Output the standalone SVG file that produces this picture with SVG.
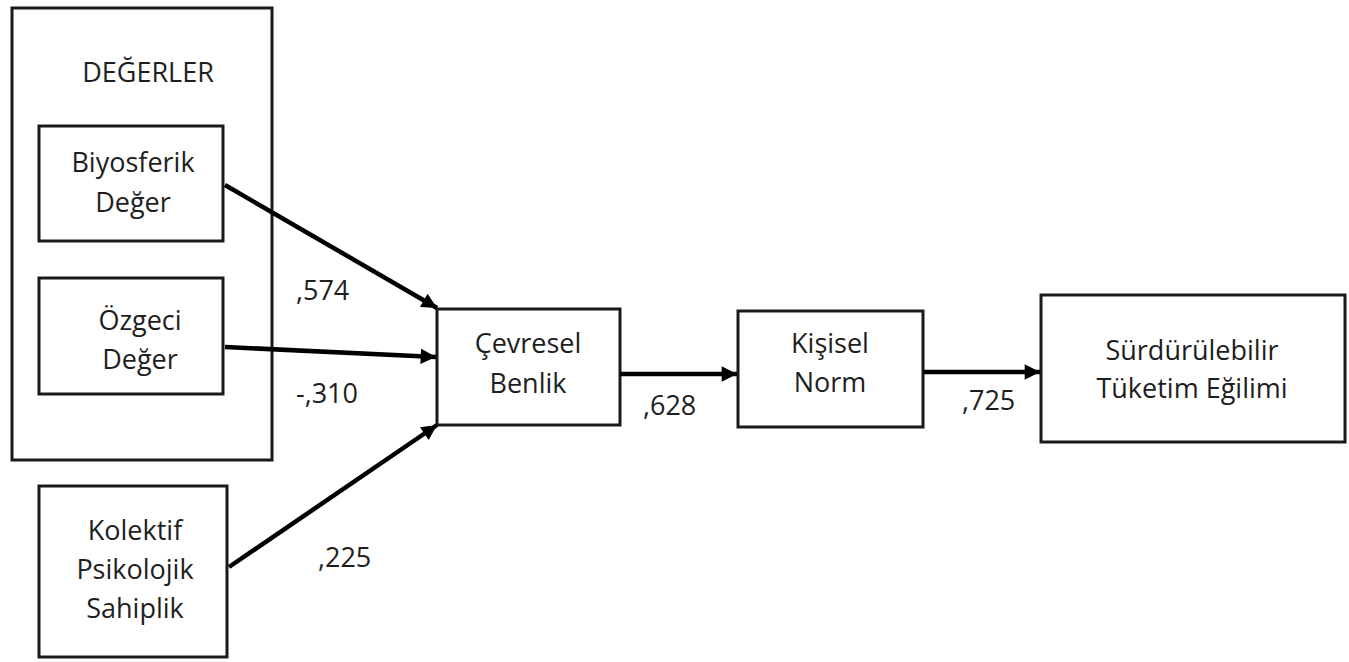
<svg xmlns="http://www.w3.org/2000/svg" width="1349" height="662" viewBox="0 0 1349 662">
<style>
.box{fill:#fff;stroke:#1a1a1a;stroke-width:3}
.t{font-family:"Open Sans","Liberation Sans",sans-serif;font-size:27px;fill:#1e1e1e;text-anchor:middle}
.lbl{font-family:"Open Sans","Liberation Sans",sans-serif;font-size:27px;fill:#1e1e1e}
.c{stroke:#000;stroke-width:4.5;fill:none;marker-end:url(#ah)}
</style>
<defs>
<marker id="ah" viewBox="0 0 10 10" refX="10" refY="5" markerWidth="4.2" markerHeight="3.4" orient="auto" markerUnits="strokeWidth">
<path d="M0,0 L10,5 L0,10 z" fill="#000"/>
</marker>
</defs>
<rect width="1349" height="662" fill="#fff"/>
<g id="degerler">
<rect class="box" x="12" y="8" width="260" height="452"/>
<text class="t" x="148" y="82">DEĞERLER</text>
</g>
<g id="biyosferik">
<rect class="box" x="39" y="126" width="184" height="115"/>
<text class="t" x="133" y="172">Biyosferik</text>
<text class="t" x="133" y="212">Değer</text>
</g>
<g id="ozgeci">
<rect class="box" x="39" y="278" width="184" height="116"/>
<text class="t" x="140" y="330">Özgeci</text>
<text class="t" x="140" y="369">Değer</text>
</g>
<g id="kolektif">
<rect class="box" x="39" y="486" width="188" height="171"/>
<text class="t" x="135" y="540">Kolektif</text>
<text class="t" x="135" y="579">Psikolojik</text>
<text class="t" x="135" y="618">Sahiplik</text>
</g>
<g id="cevresel">
<rect class="box" x="437" y="309" width="183" height="116"/>
<text class="t" x="528" y="353">Çevresel</text>
<text class="t" x="528" y="393">Benlik</text>
</g>
<g id="kisisel">
<rect class="box" x="738" y="311" width="185" height="116"/>
<text class="t" x="830" y="353">Kişisel</text>
<text class="t" x="830" y="392">Norm</text>
</g>
<g id="surdurulebilir">
<rect class="box" x="1041" y="295" width="304" height="147"/>
<text class="t" x="1192" y="360">Sürdürülebilir</text>
<text class="t" x="1192" y="398">Tüketim Eğilimi</text>
</g>
<g id="connectors">
<line class="c" x1="225" y1="185" x2="437" y2="308"/>
<line class="c" x1="225" y1="347" x2="436" y2="357"/>
<line class="c" x1="229" y1="567" x2="437" y2="425"/>
<line class="c" x1="620" y1="374" x2="737" y2="374"/>
<line class="c" x1="923" y1="372" x2="1040" y2="372"/>
<text class="lbl" x="296" y="300">,574</text>
<text class="lbl" x="296" y="403">-,310</text>
<text class="lbl" x="318" y="567">,225</text>
<text class="lbl" x="643" y="415">,628</text>
<text class="lbl" x="962" y="410">,725</text>
</g>
</svg>
